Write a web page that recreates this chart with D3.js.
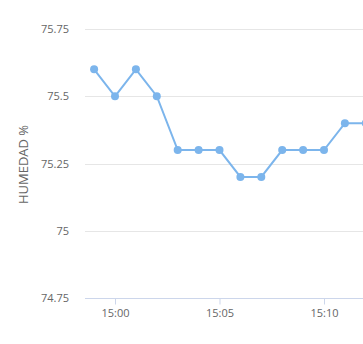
<!DOCTYPE html>
<html>
<head>
<meta charset="utf-8">
<script src="https://cdn.jsdelivr.net/npm/d3@7"></script>
<style>
  html, body { margin: 0; padding: 0; background: #fff; overflow: hidden; }
  svg { display: block; font-family: "Open Sans", "DejaVu Sans", sans-serif; }
</style>
</head>
<body>
<svg id="chart" width="363" height="344"></svg>
<script>
// Readings, one per minute.
var times = ['14:59', '15:00', '15:01', '15:02', '15:03', '15:04', '15:05',
             '15:06', '15:07', '15:08', '15:09', '15:10', '15:11', '15:12'];
var humidity = [75.6, 75.5, 75.6, 75.5, 75.3, 75.3, 75.3,
                75.2, 75.2, 75.3, 75.3, 75.3, 75.4, 75.4];
var yTicks = [74.75, 75, 75.25, 75.5, 75.75];
var xTicks = ['15:00', '15:05', '15:10'];

// Layout.
var kLeft = 85;
var kTop = 29;
var kBottom = 298;
var kPxPerMinute = 20.9;
var kLineColor = '#7cb5ec';

var parse = d3.timeParse('%H:%M');
var data = times.map(function(t, i) { return { t: parse(t), v: humidity[i] }; });

var svg = d3.select('#chart');

// x scale: left edge sits a bit before the first reading, chart is cut at the right.
var x0 = new Date(parse('15:00').getTime() - (115 - kLeft) / kPxPerMinute * 60000);
var x1 = new Date(x0.getTime() + (420 - kLeft) / kPxPerMinute * 60000);
var x = d3.scaleTime().domain([x0, x1]).range([kLeft, 420]);
var y = d3.scaleLinear().domain([74.75, 75.75]).range([kBottom, kTop]);

// Grid lines.
svg.append('g').selectAll('line')
  .data(yTicks.slice(1))
  .enter().append('line')
  .attr('x1', kLeft).attr('x2', 363)
  .attr('y1', function(d) { return Math.round(y(d)) + 0.5; })
  .attr('y2', function(d) { return Math.round(y(d)) + 0.5; })
  .attr('stroke', '#e6e6e6')
  .attr('stroke-width', 1);

// Y labels.
svg.append('g').selectAll('text')
  .data(yTicks)
  .enter().append('text')
  .attr('x', 69)
  .attr('y', function(d) { return y(d) + 4; })
  .attr('text-anchor', 'end')
  .attr('font-size', 11)
  .attr('fill', '#666')
  .text(function(d) { return d; });

// Y title.
svg.append('text')
  .attr('transform', 'translate(28,' + ((kTop + kBottom) / 2 + 1) + ') rotate(-90)')
  .attr('text-anchor', 'middle')
  .attr('font-size', 13)
  .attr('fill', '#666')
  .text('HUMEDAD %');

// X axis.
var xAxis = d3.axisBottom(x)
  .tickValues(xTicks.map(parse))
  .tickFormat(d3.timeFormat('%H:%M'))
  .tickSize(6)
  .tickSizeOuter(0);
var gx = svg.append('g')
  .attr('transform', 'translate(0,' + (kBottom + 0.5) + ')')
  .call(xAxis);
gx.select('.domain').attr('stroke', '#ccd6eb').attr('d', 'M' + kLeft + ',0H420');
gx.selectAll('.tick line').attr('stroke', '#ccd6eb');
gx.selectAll('.tick text')
  .attr('font-size', 11)
  .attr('fill', '#666')
  .attr('font-family', '"Open Sans", "DejaVu Sans", sans-serif')
  .attr('dy', '0.85em');

// Line and markers.
var line = d3.line()
  .x(function(d) { return x(d.t); })
  .y(function(d) { return y(d.v); });
svg.append('path')
  .datum(data)
  .attr('d', line)
  .attr('fill', 'none')
  .attr('stroke', kLineColor)
  .attr('stroke-width', 2);
svg.append('g').selectAll('circle')
  .data(data)
  .enter().append('circle')
  .attr('cx', function(d) { return x(d.t); })
  .attr('cy', function(d) { return y(d.v); })
  .attr('r', 4)
  .attr('fill', kLineColor);
</script>
</body>
</html>
